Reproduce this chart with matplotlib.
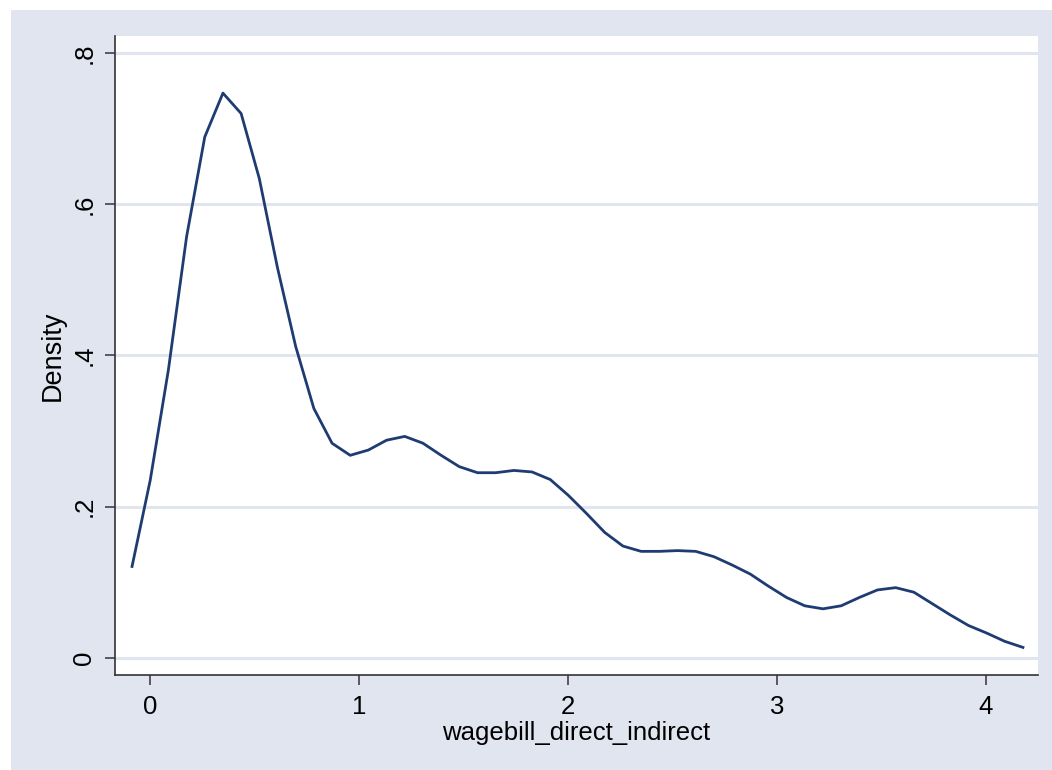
import matplotlib
matplotlib.use("Agg")
import matplotlib.pyplot as plt
from matplotlib.patches import Rectangle

# kernel density estimate, 50 evaluation points
x_start = -0.086
x_step = 0.087
density = [
    0.121, 0.235, 0.381, 0.557, 0.689, 0.747, 0.720, 0.634, 0.516, 0.412,
    0.330, 0.284, 0.268, 0.275, 0.288, 0.293, 0.284, 0.268, 0.253, 0.245,
    0.245, 0.248, 0.246, 0.236, 0.215, 0.191, 0.166, 0.148, 0.141, 0.141,
    0.142, 0.141, 0.134, 0.123, 0.111, 0.095, 0.080, 0.069, 0.065, 0.069,
    0.080, 0.090, 0.093, 0.087, 0.072, 0.057, 0.043, 0.033, 0.022, 0.014,
]
xvals = [x_start + i * x_step for i in range(len(density))]

xticks = [0, 1, 2, 3, 4]
yticks = [0, 0.2, 0.4, 0.6, 0.8]
ytick_labels = ["0", ".2", ".4", ".6", ".8"]

bg = "#E1E5F0"
navy = "#1F3C72"

plt.rcParams["font.family"] = ["Liberation Sans", "DejaVu Sans"]

fig = plt.figure(figsize=(10.52, 7.70), dpi=100, facecolor="white")
# outer region: the reference is cropped with a thin white strip top and left
fig.patches.append(Rectangle((11 / 1052, -0.05), 1.1, 0.05 + (770 - 9.5) / 770,
                             transform=fig.transFigure, facecolor=bg,
                             edgecolor="none", zorder=-1))

ax = fig.add_axes([115 / 1052, 95 / 770, (1038 - 115) / 1052, (675 - 36) / 770])
ax.set_facecolor("white")

ax.plot(xvals, density, color=navy, linewidth=2.0, zorder=3)

ax.set_xlim(-0.1675, 4.249)
ax.set_ylim(-0.0225, 0.8225)
ax.set_xticks(xticks)
ax.set_yticks(yticks)
ax.set_yticklabels(ytick_labels, rotation=90, va="center")

for y in yticks:
    ax.axhline(y, color=bg, linewidth=2.2, zorder=1)

for side in ["top", "right"]:
    ax.spines[side].set_visible(False)
for side in ["left", "bottom"]:
    ax.spines[side].set_color("#333333")
    ax.spines[side].set_linewidth(1.2)

ax.tick_params(axis="both", direction="out", length=7.5, width=1.1,
               color="#333333", labelsize=18.5, labelcolor="black")
ax.tick_params(axis="x", pad=7)
ax.tick_params(axis="y", pad=6)

ax.set_xlabel("wagebill_direct_indirect", fontsize=18.5, labelpad=1)
ax.set_ylabel("Density", fontsize=19.5, labelpad=5)

fig.savefig("out.png", dpi=100, facecolor="white")
